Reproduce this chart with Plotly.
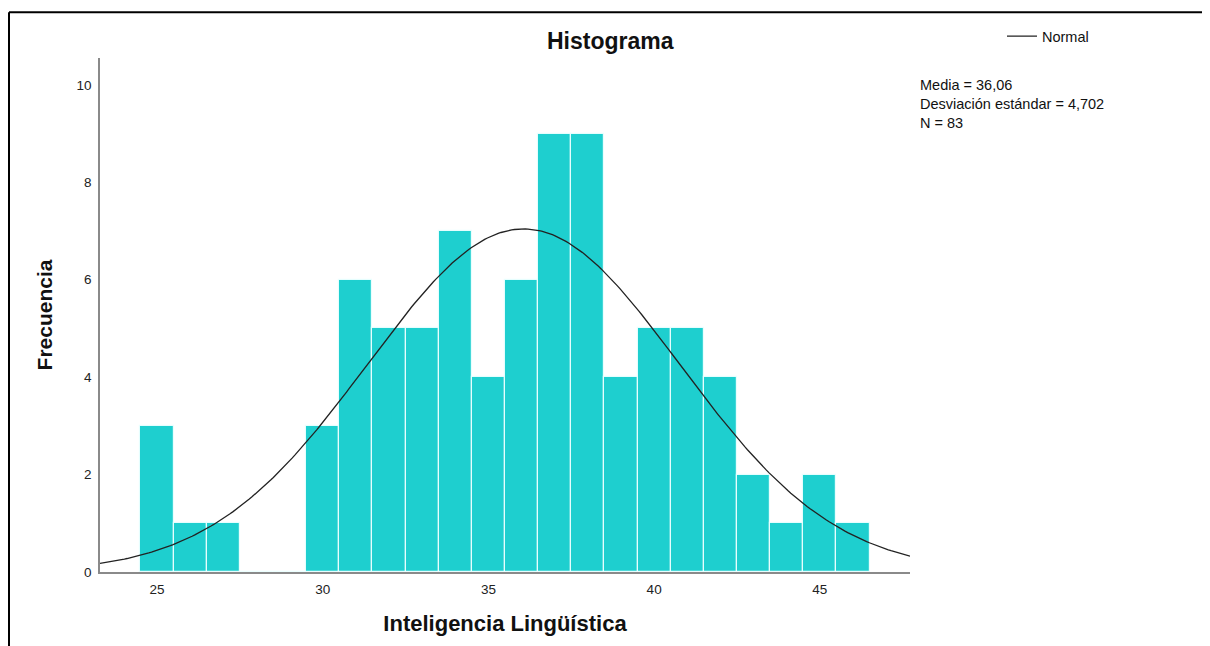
import numpy as np
import plotly.graph_objects as go

# Data
valores = [25, 26, 27, 28, 29, 30, 31, 32, 33, 34, 35, 36, 37, 38, 39, 40, 41, 42, 43, 44, 45, 46]
frecuencias = [3, 1, 1, 0, 0, 3, 6, 5, 5, 7, 4, 6, 9, 9, 4, 5, 5, 4, 2, 1, 2, 1]
media = 36.06
desviacion = 4.702
n_total = 83
ancho_bin = 1.0
x_ticks = [25, 30, 35, 40, 45]
y_ticks = [0, 2, 4, 6, 8, 10]
x_range = [23.28, 47.72]
y_range = [0, 10.55]

OFF = 8  # page body margin offset
W, H = 1210 - OFF, 646 - OFF
L, T = 100 - OFF, 55 - OFF
R = W - (910 - OFF)
B = H - (572 - OFF)
pw = W - L - R
ph = H - T - B

def px_x(px):
    return (px - OFF - L) / pw

def px_y(py):
    return (H - B - (py - OFF)) / ph

# Normal fit curve from the stated mean / sd / N
xc = np.linspace(x_range[0], x_range[1], 300)
yc = n_total * ancho_bin * np.exp(-0.5 * ((xc - media) / desviacion) ** 2) / (desviacion * np.sqrt(2 * np.pi))

fig = go.Figure()
fig.add_trace(go.Bar(
    x=valores, y=frecuencias, width=ancho_bin,
    marker=dict(color="#1ECFCF", line=dict(color="rgba(235,255,255,0.95)", width=1.2)),
    showlegend=False, hoverinfo="x+y",
))
fig.add_trace(go.Scatter(
    x=xc, y=yc, mode="lines", name="Normal",
    line=dict(color="#222222", width=1.3),
))

font_fam = "Arial, Liberation Sans, sans-serif"

fig.update_layout(
    width=W, height=H,
    margin=dict(l=L, r=R, t=T, b=B, pad=0),
    paper_bgcolor="white", plot_bgcolor="white",
    bargap=0,
    font=dict(family=font_fam, size=13, color="#222222"),
    showlegend=True,
    legend=dict(x=px_x(1002), y=px_y(17), xanchor="left", yanchor="top",
                bgcolor="rgba(0,0,0,0)", font=dict(size=14.5, color="#111111"),
                itemwidth=30, tracegroupgap=0),
    xaxis=dict(range=x_range, tickvals=x_ticks, showgrid=False, zeroline=False,
               showline=True, linecolor="#8a8a8a", linewidth=1.5,
               ticks="outside", ticklen=4, tickcolor="rgba(0,0,0,0)",
               tickfont=dict(size=13.5, color="#222222"),
               title=dict(text="<b>Inteligencia Lingüística</b>", font=dict(size=22, color="#111111"), standoff=20)),
    yaxis=dict(range=y_range, tickvals=y_ticks, showgrid=False, zeroline=False,
               showline=True, linecolor="#8a8a8a", linewidth=1.5,
               ticks="outside", ticklen=4, tickcolor="rgba(0,0,0,0)",
               tickfont=dict(size=13.5, color="#222222"),
               title=dict(text="<b>Frecuencia</b>", font=dict(size=21, color="#111111"), standoff=18)),
)

annotations = [
    dict(text="<b>Histograma</b>", x=px_x(610), y=px_y(38), xref="paper", yref="paper",
         xanchor="center", yanchor="middle", showarrow=False, font=dict(size=23, color="#111111")),
    dict(text="Media = 36,06<br>Desviación estándar = 4,702<br>N = 83",
         x=px_x(918), y=px_y(101), xref="paper", yref="paper", align="left",
         xanchor="left", yanchor="middle", showarrow=False, font=dict(size=14.5, color="#111111")),
]
fig.update_layout(annotations=annotations)

# Outer frame (top and left edges visible in reference)
fig.add_shape(type="line", xref="paper", yref="paper",
              x0=px_x(9), x1=px_x(1215), y0=px_y(9), y1=px_y(9),
              line=dict(color="black", width=2))
fig.add_shape(type="line", xref="paper", yref="paper",
              x0=px_x(9), x1=px_x(9), y0=px_y(9), y1=px_y(660),
              line=dict(color="black", width=2))

fig.write_html("out.html", config={"displayModeBar": False})
